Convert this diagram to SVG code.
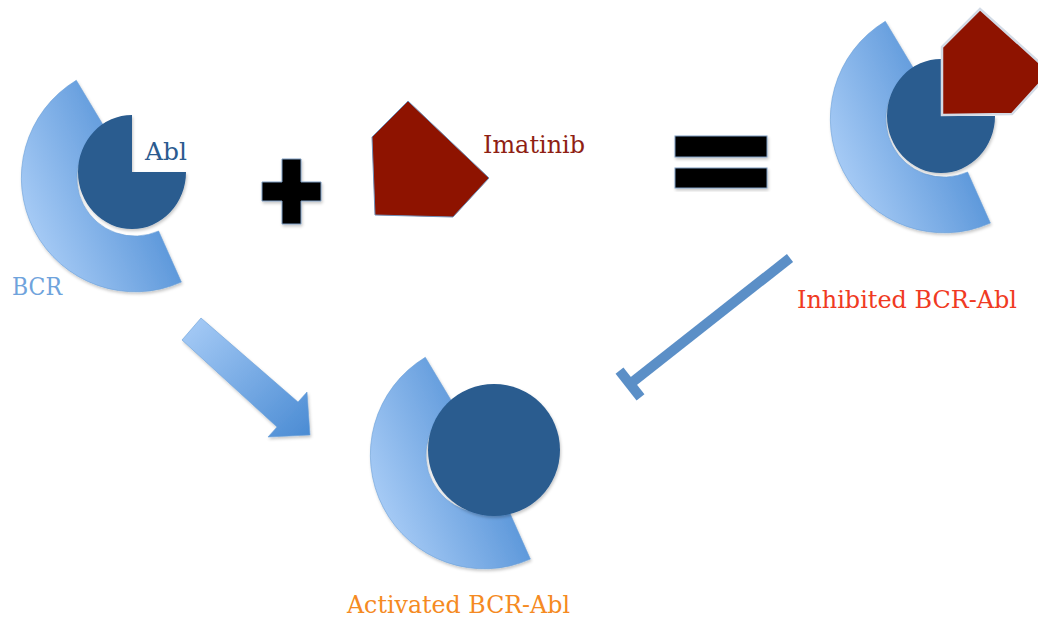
<svg xmlns="http://www.w3.org/2000/svg" xmlns:xlink="http://www.w3.org/1999/xlink" width="1038" height="620" viewBox="0 0 1038 620">
  <defs>
    <linearGradient id="bcrGrad" x1="0.05" y1="0.85" x2="0.95" y2="0.35">
      <stop offset="0" stop-color="#aed0f8"/>
      <stop offset="1" stop-color="#4688d2"/>
    </linearGradient>
    <linearGradient id="arrowGrad" x1="0" y1="0" x2="1" y2="1">
      <stop offset="0" stop-color="#a9cdf7"/>
      <stop offset="1" stop-color="#4a8bd3"/>
    </linearGradient>
    <filter id="shadow" x="-20%" y="-20%" width="140%" height="140%">
      <feDropShadow dx="1" dy="2" stdDeviation="1.5" flood-color="#000" flood-opacity="0.22"/>
    </filter>
    <path id="bcrArc" d="M46.4,104.1 A114,114 0 0 1 -58.7,-97.7 L-29.9,-49.7 A58,58 0 0 0 23.6,53 Z"/>
    <path id="ablNotched" d="M0,0 L0,-57 A54,57 0 1 0 54,0 Z"/>
  </defs>
  <style>
    .bcr { fill: url(#bcrGrad); stroke: #6a9fd8; stroke-width: 0.6; filter: url(#shadow); }
    .abl { fill: #295b8f; filter: url(#shadow); }
    .drug { fill: #8e1300; }
    .sym { fill: #000; stroke: #7d9cc0; stroke-width: 1; filter: url(#shadow); }
    .lbl { font-family: "DejaVu Serif", "Liberation Serif", serif; font-size: 25px; }
    .inhib { stroke: #5b8fc7; stroke-width: 10; fill: none; }
  </style>

  <g id="node-bcr-abl">
    <use xlink:href="#bcrArc" href="#bcrArc" class="bcr" transform="translate(135,178)"/>
    <use xlink:href="#ablNotched" href="#ablNotched" class="abl" transform="translate(132,172)"/>
    <text class="lbl" x="145" y="160" fill="#2b5b8f" textLength="42" lengthAdjust="spacingAndGlyphs">Abl</text>
    <text class="lbl" x="12" y="295" fill="#6fa3dc" textLength="50" lengthAdjust="spacingAndGlyphs">BCR</text>
  </g>

  <g id="node-plus">
    <path class="sym" d="M282,159 H301 V182 H321 V201 H301 V224 H282 V201 H262 V182 H282 Z"/>
  </g>

  <g id="node-imatinib">
    <polygon class="drug" points="372,137 408,101 489,178 453,217 375,215" stroke="#6f8fb8" stroke-width="1"/>
    <text class="lbl" x="483" y="153" fill="#8f1f14" textLength="102" lengthAdjust="spacingAndGlyphs">Imatinib</text>
  </g>

  <g id="node-equals">
    <rect class="sym" x="675" y="136" width="92" height="21"/>
    <rect class="sym" x="675" y="168" width="92" height="20"/>
  </g>

  <g id="node-inhibited">
    <use xlink:href="#bcrArc" href="#bcrArc" class="bcr" transform="translate(944,119)"/>
    <use xlink:href="#ablNotched" href="#ablNotched" class="abl" transform="translate(941,116)"/>
    <polygon class="drug" points="942,47 980,9 1050,72 1012,114 942,115" stroke="#d3dbe6" stroke-width="2.5"/>
    <text class="lbl" x="797" y="308" fill="#f03a22" textLength="220" lengthAdjust="spacingAndGlyphs">Inhibited BCR-Abl</text>
  </g>

  <g id="node-activated">
    <use xlink:href="#bcrArc" href="#bcrArc" class="bcr" transform="translate(484,455)"/>
    <circle class="abl" cx="494" cy="450" r="66"/>
    <text class="lbl" x="347" y="613" fill="#f58a22" textLength="223" lengthAdjust="spacingAndGlyphs">Activated BCR-Abl</text>
  </g>

  <g id="connectors">
    <polygon points="182,340 201,318 298,402 307,392 310,435 268,437 277,427" fill="url(#arrowGrad)" stroke="#6a9fd8" stroke-width="0.6" filter="url(#shadow)"/>
    <line class="inhib" x1="790" y1="258" x2="630" y2="384"/>
    <line class="inhib" x1="619.5" y1="370.6" x2="640.5" y2="397.4"/>
  </g>
</svg>
